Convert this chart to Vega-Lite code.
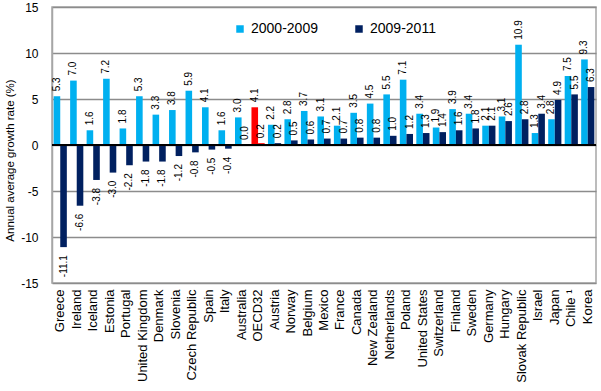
{
  "$schema": "https://vega.github.io/schema/vega-lite/v6.json",
  "width": 544,
  "height": 276,
  "autosize": "none",
  "padding": {"left": 52, "top": 7, "right": 5, "bottom": 108},
  "background": "white",
  "config": {
    "font": "Liberation Sans",
    "view": {"stroke": "#a6a6a6", "strokeWidth": 1.5},
    "locale": {"number": {"decimal": ".", "thousands": ",", "grouping": [3], "currency": ["$", ""], "minus": "-"}}
  },
  "data": {
    "values": [
      {"country": "Greece", "series": "2000-2009", "value": 5.3},
      {"country": "Greece", "series": "2009-2011", "value": -11.1},
      {"country": "Ireland", "series": "2000-2009", "value": 7.0},
      {"country": "Ireland", "series": "2009-2011", "value": -6.6},
      {"country": "Iceland", "series": "2000-2009", "value": 1.6},
      {"country": "Iceland", "series": "2009-2011", "value": -3.8},
      {"country": "Estonia", "series": "2000-2009", "value": 7.2},
      {"country": "Estonia", "series": "2009-2011", "value": -3.0},
      {"country": "Portugal", "series": "2000-2009", "value": 1.8},
      {"country": "Portugal", "series": "2009-2011", "value": -2.2},
      {"country": "United Kingdom", "series": "2000-2009", "value": 5.3},
      {"country": "United Kingdom", "series": "2009-2011", "value": -1.8},
      {"country": "Denmark", "series": "2000-2009", "value": 3.3},
      {"country": "Denmark", "series": "2009-2011", "value": -1.8},
      {"country": "Slovenia", "series": "2000-2009", "value": 3.8},
      {"country": "Slovenia", "series": "2009-2011", "value": -1.2},
      {"country": "Czech Republic", "series": "2000-2009", "value": 5.9},
      {"country": "Czech Republic", "series": "2009-2011", "value": -0.8},
      {"country": "Spain", "series": "2000-2009", "value": 4.1},
      {"country": "Spain", "series": "2009-2011", "value": -0.5},
      {"country": "Italy", "series": "2000-2009", "value": 1.6},
      {"country": "Italy", "series": "2009-2011", "value": -0.4},
      {"country": "Australia", "series": "2000-2009", "value": 3.0},
      {"country": "Australia", "series": "2009-2011", "value": 0.0},
      {"country": "OECD32", "series": "2000-2009", "value": 4.1},
      {"country": "OECD32", "series": "2009-2011", "value": 0.2},
      {"country": "Austria", "series": "2000-2009", "value": 2.2},
      {"country": "Austria", "series": "2009-2011", "value": 0.2},
      {"country": "Norway", "series": "2000-2009", "value": 2.8},
      {"country": "Norway", "series": "2009-2011", "value": 0.5},
      {"country": "Belgium", "series": "2000-2009", "value": 3.7},
      {"country": "Belgium", "series": "2009-2011", "value": 0.6},
      {"country": "Mexico", "series": "2000-2009", "value": 3.1},
      {"country": "Mexico", "series": "2009-2011", "value": 0.7},
      {"country": "France", "series": "2000-2009", "value": 2.1},
      {"country": "France", "series": "2009-2011", "value": 0.7},
      {"country": "Canada", "series": "2000-2009", "value": 3.5},
      {"country": "Canada", "series": "2009-2011", "value": 0.8},
      {"country": "New Zealand", "series": "2000-2009", "value": 4.5},
      {"country": "New Zealand", "series": "2009-2011", "value": 0.8},
      {"country": "Netherlands", "series": "2000-2009", "value": 5.5},
      {"country": "Netherlands", "series": "2009-2011", "value": 1.0},
      {"country": "Poland", "series": "2000-2009", "value": 7.1},
      {"country": "Poland", "series": "2009-2011", "value": 1.2},
      {"country": "United States", "series": "2000-2009", "value": 3.4},
      {"country": "United States", "series": "2009-2011", "value": 1.3},
      {"country": "Switzerland", "series": "2000-2009", "value": 1.9},
      {"country": "Switzerland", "series": "2009-2011", "value": 1.4},
      {"country": "Finland", "series": "2000-2009", "value": 3.9},
      {"country": "Finland", "series": "2009-2011", "value": 1.6},
      {"country": "Sweden", "series": "2000-2009", "value": 3.4},
      {"country": "Sweden", "series": "2009-2011", "value": 1.8},
      {"country": "Germany", "series": "2000-2009", "value": 2.1},
      {"country": "Germany", "series": "2009-2011", "value": 2.1},
      {"country": "Hungary", "series": "2000-2009", "value": 3.1},
      {"country": "Hungary", "series": "2009-2011", "value": 2.6},
      {"country": "Slovak Republic", "series": "2000-2009", "value": 10.9},
      {"country": "Slovak Republic", "series": "2009-2011", "value": 2.8},
      {"country": "Israel", "series": "2000-2009", "value": 1.3},
      {"country": "Israel", "series": "2009-2011", "value": 3.4},
      {"country": "Japan", "series": "2000-2009", "value": 2.8},
      {"country": "Japan", "series": "2009-2011", "value": 4.9},
      {"country": "Chile ¹", "series": "2000-2009", "value": 7.5},
      {"country": "Chile ¹", "series": "2009-2011", "value": 5.5},
      {"country": "Korea", "series": "2000-2009", "value": 9.3},
      {"country": "Korea", "series": "2009-2011", "value": 6.3}
    ]
  },
  "encoding": {
    "x": {
      "field": "country",
      "type": "nominal",
      "sort": null,
      "scale": {"paddingInner": 0.2, "paddingOuter": 0.1},
      "axis": {
        "title": null,
        "labelAngle": -90,
        "labelFontSize": 13,
        "labelColor": "black",
        "labelPadding": 6,
        "ticks": false,
        "domain": false
      }
    },
    "xOffset": {"field": "series", "type": "nominal", "scale": {"paddingInner": 0}},
    "y": {
      "field": "value",
      "type": "quantitative",
      "scale": {"domain": [-15, 15], "nice": false},
      "axis": {
        "title": "Annual average growth rate (%)",
        "titleFontSize": 11.5,
        "titleFontWeight": "normal",
        "titleColor": "black",
        "titlePadding": 5,
        "titleY": 153,
        "values": [-15, -10, -5, 0, 5, 10, 15],
        "labelFontSize": 12,
        "labelColor": "black",
        "labelPadding": 14,
        "ticks": false,
        "domainColor": "#a6a6a6",
        "domainWidth": 1.5,
        "gridColor": "#8c8c8c",
        "gridWidth": 1.5
      }
    }
  },
  "layer": [
    {
      "mark": {"type": "bar"},
      "encoding": {
        "color": {
          "condition": {"test": "datum.country === 'OECD32'", "value": "#ff0000"},
          "field": "series",
          "type": "nominal",
          "scale": {"domain": ["2000-2009", "2009-2011"], "range": ["#00b0f0", "#002060"]},
          "legend": {
            "title": null,
            "orient": "none",
            "direction": "horizontal",
            "legendX": 181,
            "legendY": 15,
            "symbolType": "square",
            "symbolSize": 56,
            "symbolStrokeWidth": 0,
            "labelFontSize": 14,
            "labelColor": "black",
            "labelOffset": 4,
            "columnPadding": 34
          }
        }
      }
    },
    {
      "mark": {"type": "rule", "color": "black", "strokeWidth": 1.5},
      "encoding": {"y": {"datum": 0}, "x": null, "xOffset": null}
    },
    {
      "transform": [{"filter": "datum.value >= 0"}],
      "mark": {"type": "text", "angle": 270, "align": "left", "baseline": "middle", "dx": 5, "fontSize": 10, "color": "black"},
      "encoding": {"text": {"field": "value", "type": "quantitative", "format": ".1f"}}
    },
    {
      "transform": [{"filter": "datum.value < 0"}],
      "mark": {"type": "text", "angle": 270, "align": "right", "baseline": "middle", "dx": -8, "fontSize": 10, "color": "black"},
      "encoding": {"text": {"field": "value", "type": "quantitative", "format": ".1f"}}
    }
  ]
}
